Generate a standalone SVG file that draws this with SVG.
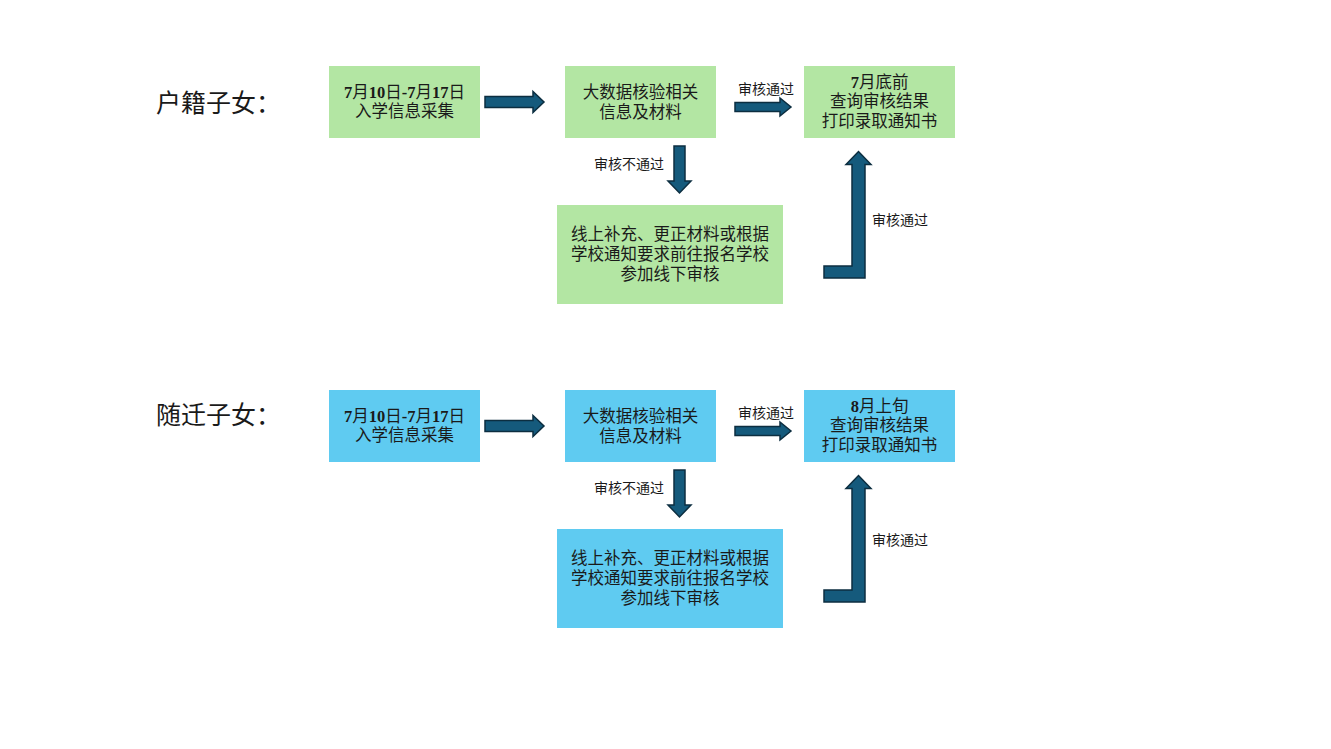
<svg xmlns="http://www.w3.org/2000/svg" width="1331" height="749" viewBox="0 0 1331 749">
<style>
text{font-family:"Liberation Serif","Noto Sans CJK SC",serif;fill:#1a1a1a;text-anchor:middle}
.t{font-size:16.5px}
.b{font-weight:bold}
.lbl{font-size:14px}
.head{font-size:25px;text-anchor:start}
.g{fill:#b3e6a3}
.c{fill:#5fcbf1}
.arr{fill:#155a7c;stroke:#0c2e40;stroke-width:1.5}
</style>
<rect width="1331" height="749" fill="#fff"/>
<g id="row1">
<text class="head" x="156" y="112">户籍子女：</text>
<g id="n1a"><rect class="g" x="329" y="66" width="151" height="72"/><text class="t" x="404.5" y="98"><tspan class="b">7</tspan>月<tspan class="b">10</tspan>日<tspan class="b">-7</tspan>月<tspan class="b">17</tspan>日</text><text class="t" x="404.5" y="117">入学信息采集</text></g>
<g id="n1b"><rect class="g" x="565" y="66" width="151" height="72"/><text class="t" x="640.5" y="98">大数据核验相关</text><text class="t" x="640.5" y="118">信息及材料</text></g>
<g id="n1c"><rect class="g" x="804" y="66" width="151" height="72"/><text class="t" x="879.5" y="88"><tspan class="b">7</tspan>月底前</text><text class="t" x="879.5" y="107">查询审核结果</text><text class="t" x="879.5" y="127">打印录取通知书</text></g>
<g id="n1d"><rect class="g" x="557" y="205" width="226" height="99"/><text class="t" x="670" y="240">线上补充、更正材料或根据</text><text class="t" x="670" y="260">学校通知要求前往报名学校</text><text class="t" x="670" y="280">参加线下审核</text></g>
</g>
<g id="row2">
<text class="head" x="156" y="424">随迁子女：</text>
<g id="n2a"><rect class="c" x="329" y="390" width="151" height="72"/><text class="t" x="404.5" y="422"><tspan class="b">7</tspan>月<tspan class="b">10</tspan>日<tspan class="b">-7</tspan>月<tspan class="b">17</tspan>日</text><text class="t" x="404.5" y="441">入学信息采集</text></g>
<g id="n2b"><rect class="c" x="565" y="390" width="151" height="72"/><text class="t" x="640.5" y="422">大数据核验相关</text><text class="t" x="640.5" y="442">信息及材料</text></g>
<g id="n2c"><rect class="c" x="804" y="390" width="151" height="72"/><text class="t" x="879.5" y="412"><tspan class="b">8</tspan>月上旬</text><text class="t" x="879.5" y="431">查询审核结果</text><text class="t" x="879.5" y="451">打印录取通知书</text></g>
<g id="n2d"><rect class="c" x="557" y="529" width="226" height="99"/><text class="t" x="670" y="564">线上补充、更正材料或根据</text><text class="t" x="670" y="584">学校通知要求前往报名学校</text><text class="t" x="670" y="604">参加线下审核</text></g>
</g>
<g id="connectors">
<g id="c1">
<path class="arr" d="M485,96.5 H533 V91.5 L544,102 L533,112.5 V107.5 H485 Z"/>
<path class="arr" d="M735,102.5 H780 V98 L791,107 L780,116 V111.5 H735 Z"/>
<text class="lbl" x="766" y="94">审核通过</text>
<path class="arr" d="M674,146 H685 V181 H691 L679.5,193 L668,181 H674 Z"/>
<text class="lbl" x="629" y="169">审核不通过</text>
<path class="arr" d="M824,266 H852 V164.5 H846 L858.5,151.5 L871,164.5 H865 V278 H824 Z"/>
<text class="lbl" x="900" y="225">审核通过</text>
</g>
<g id="c2" transform="translate(0,324)">
<path class="arr" d="M485,96.5 H533 V91.5 L544,102 L533,112.5 V107.5 H485 Z"/>
<path class="arr" d="M735,102.5 H780 V98 L791,107 L780,116 V111.5 H735 Z"/>
<text class="lbl" x="766" y="94">审核通过</text>
<path class="arr" d="M674,146 H685 V181 H691 L679.5,193 L668,181 H674 Z"/>
<text class="lbl" x="629" y="169">审核不通过</text>
<path class="arr" d="M824,266 H852 V164.5 H846 L858.5,151.5 L871,164.5 H865 V278 H824 Z"/>
<text class="lbl" x="900" y="221">审核通过</text>
</g>
</g>
</svg>
